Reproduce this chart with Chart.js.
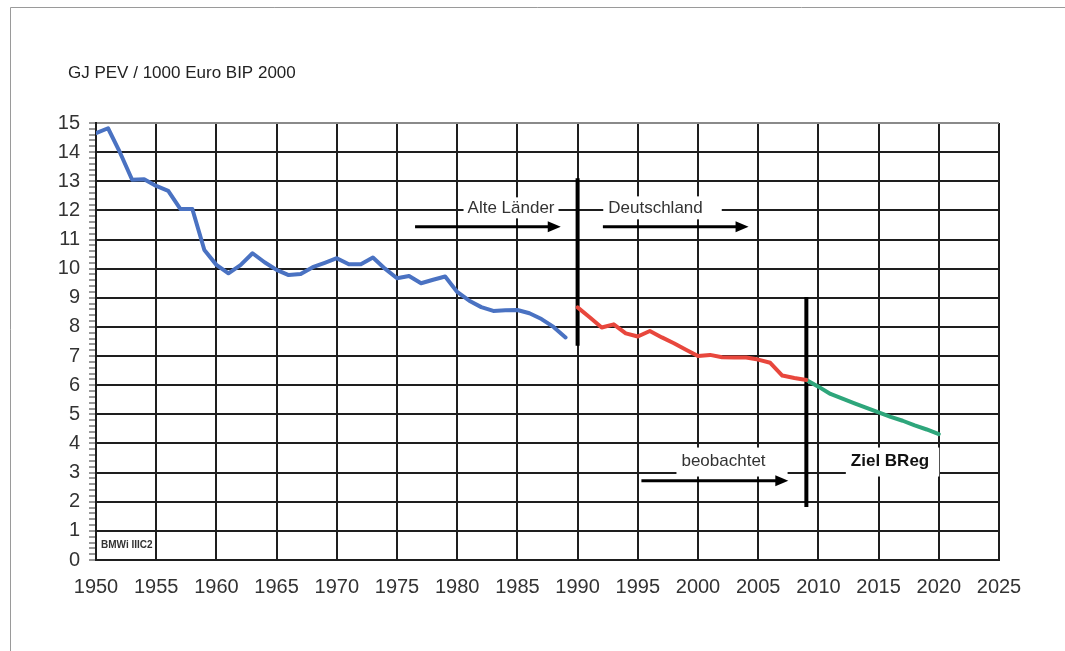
<!DOCTYPE html>
<html><head><meta charset="utf-8">
<script src="https://cdn.jsdelivr.net/npm/chart.js@4.4.1/dist/chart.umd.min.js"></script>
<style>html,body{margin:0;padding:0;background:#fff;}canvas{display:block;}</style>
</head><body>
<canvas id="c" width="1065" height="651"></canvas>
<script>
// ---- data ----
const yearsAlteLaender = [1950,1951,1952,1953,1954,1955,1956,1957,1958,1959,1960,1961,1962,1963,1964,1965,1966,1967,1968,1969,1970,1971,1972,1973,1974,1975,1976,1977,1978,1979,1980,1981,1982,1983,1984,1985,1986,1987,1988,1989];
const valuesAlteLaender = [14.65,14.82,13.98,13.05,13.07,12.84,12.67,12.05,12.05,10.64,10.13,9.84,10.12,10.53,10.22,9.96,9.78,9.82,10.05,10.2,10.36,10.15,10.15,10.38,10.0,9.67,9.75,9.5,9.62,9.73,9.2,8.9,8.68,8.55,8.57,8.58,8.47,8.27,8.0,7.64];
const yearsDeutschland = [1990,1991,1992,1993,1994,1995,1996,1997,1998,1999,2000,2001,2002,2003,2004,2005,2006,2007,2008,2009];
const valuesDeutschland = [8.67,8.33,7.98,8.09,7.78,7.67,7.86,7.64,7.44,7.22,7.0,7.04,6.96,6.95,6.95,6.88,6.77,6.33,6.25,6.18];
const yearsZiel = [2009,2010,2011,2012,2013,2014,2015,2016,2017,2018,2019,2020];
const valuesZiel = [6.18,5.95,5.7,5.54,5.38,5.22,5.07,4.91,4.78,4.62,4.48,4.32];
const xTickLabels = ['1950','1955','1960','1965','1970','1975','1980','1985','1990','1995','2000','2005','2010','2015','2020','2025'];
const yTickLabels = ['0','1','2','3','4','5','6','7','8','9','10','11','12','13','14','15'];
const separatorYears = [1990, 2009];
const separatorFrom = [7.35, 1.82];
const separatorTo = [13.1, 9.03];
const titleText = 'GJ PEV / 1000 Euro BIP 2000';
const sourceText = 'BMWi IIIC2';

// annotation texts (anchor in data units)
const labels = [
  {text:'Alte Länder', x:1984.47, y:12.07, bold:false, padL:4, padR:4, padT:11, padB:10},
  {text:'Deutschland', x:1996.47, y:12.07, bold:false, padL:5, padR:19, padT:12, padB:11},
  {text:'beobachtet', x:2002.12, y:3.38, bold:false, padL:5, padR:22, padT:14, padB:15},
  {text:'Ziel BReg', x:2015.95, y:3.38, bold:true, padL:5, padR:10, padT:14, padB:15}
];
const arrows = [
  {x1:1976.5, x2:1988.6, y:11.44},
  {x1:1992.1, x2:2004.2, y:11.44},
  {x1:1995.3, x2:2007.5, y:2.72}
];

const FONT = '"Liberation Sans", Arial, Helvetica, sans-serif';
Chart.defaults.font.family = FONT;

const toPts = (xs, ys) => xs.map((x, i) => ({x: x, y: ys[i]}));

const annotPlugin = {
  id: 'annot',
  beforeDraw(chart) {
    const ctx = chart.ctx;
    ctx.save();
    ctx.fillStyle = '#ffffff';
    ctx.fillRect(0, 0, chart.width, chart.height);
    ctx.strokeStyle = '#9a9a9a';
    ctx.lineWidth = 1;
    ctx.beginPath();
    ctx.moveTo(10.5, chart.height);
    ctx.lineTo(10.5, 7.5);
    ctx.lineTo(chart.width, 7.5);
    ctx.stroke();
    ctx.fillStyle = '#222';
    ctx.font = '17px ' + FONT;
    ctx.textBaseline = 'middle';
    ctx.textAlign = 'left';
    ctx.fillText(titleText, 68, 73);
    ctx.restore();
  },
  beforeDatasetsDraw(chart) {
    const ctx = chart.ctx, xs = chart.scales.x, ys = chart.scales.y;
    ctx.save();
    labels.forEach(l => {
      ctx.font = (l.bold ? 'bold ' : '') + '17px ' + FONT;
      const w = ctx.measureText(l.text).width;
      const cx = xs.getPixelForValue(l.x), cy = ys.getPixelForValue(l.y);
      ctx.fillStyle = '#ffffff';
      ctx.fillRect(cx - w / 2 - l.padL, cy - l.padT, w + l.padL + l.padR, l.padT + l.padB);
    });
    ctx.restore();
  },
  afterDatasetsDraw(chart) {
    const ctx = chart.ctx, xs = chart.scales.x, ys = chart.scales.y;
    ctx.save();
    labels.forEach(l => {
      ctx.font = (l.bold ? 'bold ' : '') + '17px ' + FONT;
      ctx.fillStyle = l.bold ? '#111' : '#333';
      ctx.textAlign = 'center';
      ctx.textBaseline = 'middle';
      ctx.fillText(l.text, xs.getPixelForValue(l.x), ys.getPixelForValue(l.y));
    });
    arrows.forEach(a => {
      const x1 = xs.getPixelForValue(a.x1), x2 = xs.getPixelForValue(a.x2), y = ys.getPixelForValue(a.y);
      ctx.strokeStyle = '#000';
      ctx.lineWidth = 3;
      ctx.beginPath();
      ctx.moveTo(x1, y);
      ctx.lineTo(x2 - 10, y);
      ctx.stroke();
      ctx.fillStyle = '#000';
      ctx.beginPath();
      ctx.moveTo(x2, y);
      ctx.lineTo(x2 - 13, y - 5.5);
      ctx.lineTo(x2 - 13, y + 5.5);
      ctx.closePath();
      ctx.fill();
    });
    ctx.font = 'bold 10px ' + FONT;
    ctx.fillStyle = '#333';
    ctx.textAlign = 'left';
    ctx.textBaseline = 'middle';
    ctx.fillText(sourceText, 101, 545);
    ctx.restore();
  }
};

const isInt = v => Math.abs(v - Math.round(v)) < 1e-6;

const datasets = [
  {data: toPts(yearsAlteLaender, valuesAlteLaender), borderColor: '#4a72c2', borderWidth: 4},
  {data: toPts(yearsDeutschland, valuesDeutschland), borderColor: '#e8473d', borderWidth: 4},
  {data: toPts(yearsZiel, valuesZiel), borderColor: '#2ea67b', borderWidth: 4}
];
separatorYears.forEach((yr, i) => {
  datasets.push({data: [{x: yr, y: separatorFrom[i]}, {x: yr, y: separatorTo[i]}], borderColor: '#000', borderWidth: 4, borderCapStyle: 'butt'});
});
datasets.forEach(d => { d.pointRadius = 0; d.fill = false; d.tension = 0; if (!d.borderCapStyle) d.borderCapStyle = 'round'; d.borderJoinStyle = 'round'; });

new Chart(document.getElementById('c'), {
  type: 'line',
  data: {datasets: datasets},
  plugins: [annotPlugin],
  options: {
    responsive: false,
    animation: false,
    devicePixelRatio: 1,
    layout: {padding: {left: 0, right: 66, top: 123, bottom: 0}},
    plugins: {legend: {display: false}, tooltip: {enabled: false}},
    scales: {
      x: {
        type: 'linear', min: 1950, max: 2025,
        ticks: {stepSize: 5, autoSkip: false, maxRotation: 0, padding: 15, color: '#333',
          font: {size: 20},
          callback: (v) => { const i = xTickLabels.indexOf(String(Math.round(v))); return i >= 0 ? xTickLabels[i] : ''; }},
        grid: {color: '#1e1e1e', lineWidth: 2, drawTicks: false},
        border: {color: '#1e1e1e', width: 2},
        afterFit: (s) => { s.height = 91; }
      },
      y: {
        type: 'linear', min: 0, max: 15,
        ticks: {stepSize: 0.2, autoSkip: false, maxTicksLimit: 200, padding: 9, color: '#333',
          font: {size: 20},
          callback: (v) => isInt(v) ? yTickLabels[Math.round(v)] : ''},
        grid: {
          color: (c) => (c.tick && isInt(c.tick.value)) ? (Math.round(c.tick.value) === 15 ? '#8a8a8a' : '#1e1e1e') : 'rgba(0,0,0,0)',
          lineWidth: (c) => (c.tick && isInt(c.tick.value)) ? 2 : 0,
          tickColor: '#333', tickWidth: 1, tickLength: 7, drawTicks: true
        },
        border: {color: '#1e1e1e', width: 2},
        afterFit: (s) => { s.width = 96; }
      }
    }
  }
});
</script>
</body></html>
